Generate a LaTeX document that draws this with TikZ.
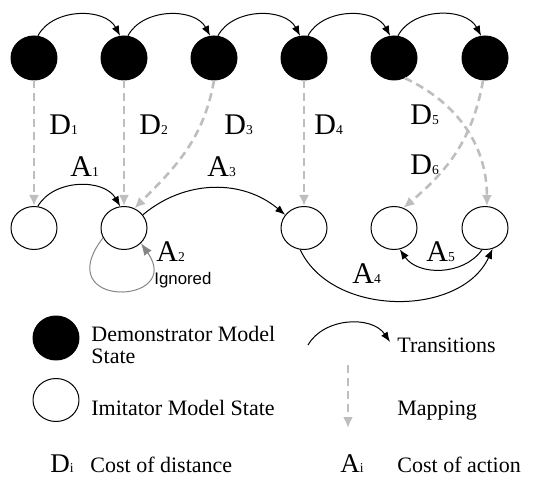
\documentclass[tikz,border=0pt]{standalone}
\usepackage{fontspec}
\setmainfont{Liberation Serif}
\newfontfamily\helv{Liberation Sans}
\usetikzlibrary{arrows.meta,shapes.geometric}
\definecolor{mapgray}{HTML}{BEBEBE}
\definecolor{loopgray}{HTML}{858585}
\tikzset{
	dstate/.style={ellipse,draw,fill=black,minimum width=23pt,minimum height=22pt,inner sep=0pt,line width=.5pt},
	istate/.style={ellipse,draw,fill=white,minimum width=23pt,minimum height=21.5pt,inner sep=0pt,line width=.5pt},
	trans/.style={line width=.5pt,-{Latex[length=5pt,width=3.8pt]}},
	mapping/.style={mapgray,line width=1.3pt,dash pattern=on 4pt off 2.5pt,-{Latex[length=5.5pt,width=5pt]}},
	cost/.style={anchor=base west,inner sep=0pt,font=\fontsize{15}{15}\selectfont},
	legtext/.style={anchor=base west,inner sep=0pt,align=left,font=\fontsize{11}{10.8}\selectfont}
}
\newcommand{\cst}[2]{#1{\fontsize{6.8}{7}\selectfont #2}}
\begin{document}
\begin{tikzpicture}[x=.5pt,y=.5pt,line join=round]
	\useasboundingbox (0,0) rectangle (533,481);
	% demonstrator and imitator states
	\foreach \i/\x in {1/34,2/124,3/214,4/304,5/394,6/485}
		\node[dstate] (d\i) at (\x,423) {};
	\foreach \i/\x in {1/34,2/124,4/304,5/394,6/485}
		\node[istate] (i\i) at (\x,253) {};
	% transitions of the demonstrator
	\foreach \a/\b in {1/2,2/3,3/4,4/5,5/6}
		\draw[trans] (d\a.80) to[bend left=62] (d\b.100);
	% mappings
	\foreach \i in {1,2,4}
		\draw[mapping] (d\i.south) -- (i\i.north);
	\draw[mapping] (d3.south) to[out=-100,in=45] (i2.62);
	\draw[mapping] (d5.-62) to[out=-25,in=90] (i6.85);
	\draw[mapping] (d6.-95) to[out=-100,in=40] (i5.65);
	% actions of the imitator
	\draw[trans] (i1.80) to[bend left=60] (i2.100);
	\draw[loopgray,line width=.5pt,-{Latex[length=6pt,width=4.6pt]}] (i2.205) .. controls +(-55,-72) and +(44,-62) .. (i2.-42);
	\draw[trans] (i2.35) to[bend left=40] (i4.145);
	\draw[trans] (i4.-100) to[bend right=65] (i6.-70);
	\draw[trans] (i6.-98) to[bend left=55] (i5.-75);
	% cost labels
	\node[cost] (l1) at (49,346) {\cst{D}{1}};
	\node[cost] (l2) at (139,346) {\cst{D}{2}};
	\node[cost] (l3) at (224,346) {\cst{D}{3}};
	\node[cost] (l4) at (314,346) {\cst{D}{4}};
	\node[cost] (l5) at (410,356) {\cst{D}{5}};
	\node[cost] (l6) at (410,306) {\cst{D}{6}};
	\node[cost] (a1) at (70,304) {\cst{A}{1}};
	\node[cost] (a2) at (156,219) {\cst{A}{2}};
	\node[cost] (a3) at (207,304) {\cst{A}{3}};
	\node[cost] (a4) at (352,197) {\cst{A}{4}};
	\node[cost] (a5) at (426,219) {\cst{A}{5}};
	\node[anchor=base west,inner sep=0pt,font=\helv\fontsize{8.4}{9}\selectfont] (ign) at (154,196) {Ignored};
	% legend
	\node[dstate] (lgd) at (56,143) {};
	\node[istate] (lgi) at (56,81) {};
	\node[legtext,anchor=west] (tlgd) at (91,136) {Demonstrator Model\\State};
	\node[legtext] (tlgi) at (91,66) {Imitator Model State};
	\coordinate (t1) at (308,136);
	\coordinate (t2) at (390,139);
	\draw[trans] (t1) to[bend left=58] (t2);
	\node[legtext] (ttr) at (397,129) {Transitions};
	\coordinate (m1) at (348,116);
	\coordinate (m2) at (348,53);
	\draw[mapping] (m1) -- (m2);
	\node[legtext] (tmp) at (397,66) {Mapping};
	\node[cost,font=\fontsize{13.5}{13}\selectfont] (ldi) at (50,9) {\cst{D}{i}};
	\node[legtext] (tdi) at (90,9) {Cost of distance};
	\node[cost,font=\fontsize{13.5}{13}\selectfont] (lai) at (340,9) {\cst{A}{i}};
	\node[legtext] (tai) at (397,9) {Cost of action};
\end{tikzpicture}
\end{document}
